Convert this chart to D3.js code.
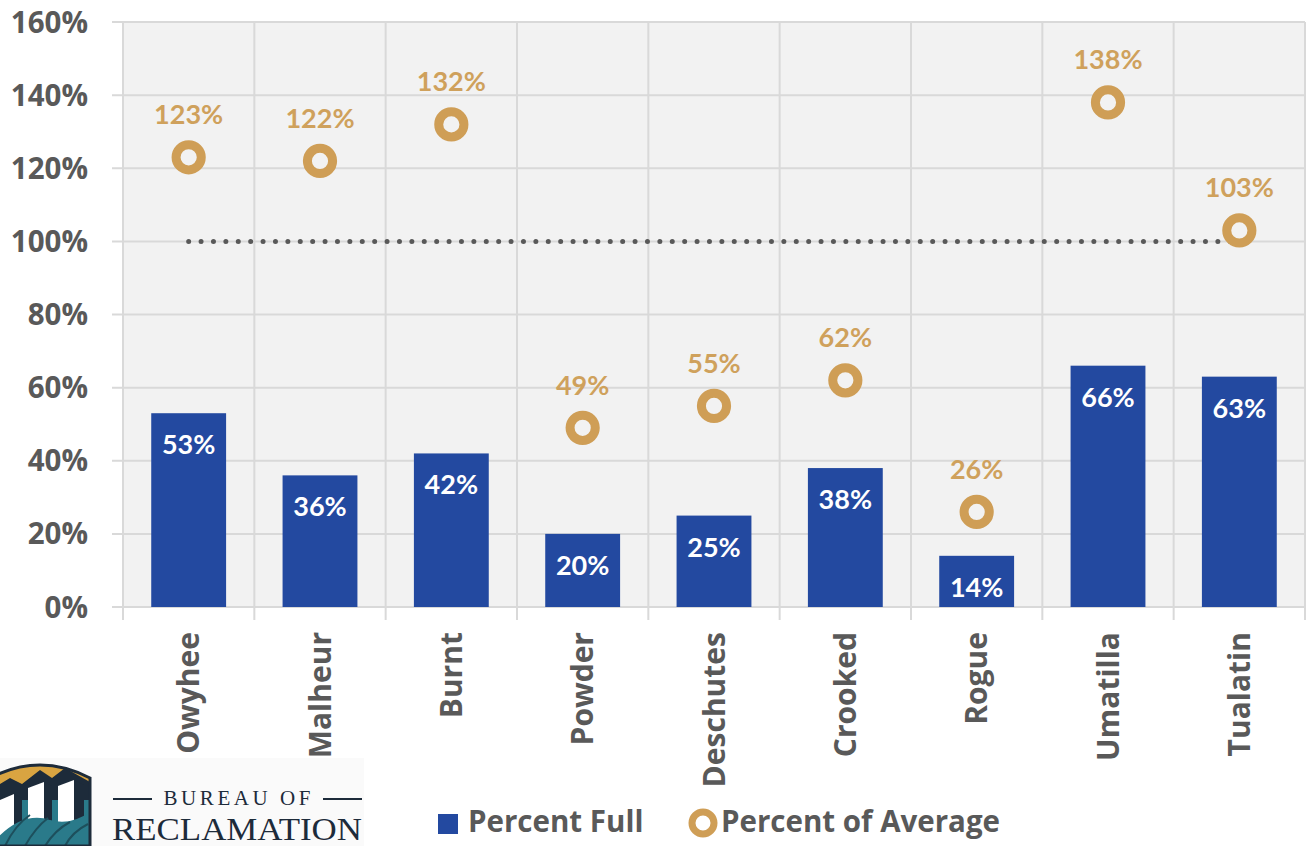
<!DOCTYPE html>
<html>
<head>
<meta charset="utf-8">
<script src="https://cdn.jsdelivr.net/npm/d3@7"></script>
<style>
  html, body { margin: 0; padding: 0; background: #ffffff; }
  svg { display: block; }
  text { font-family: Lato, "Open Sans", sans-serif; font-weight: 700; }
</style>
</head>
<body>
<svg id="chart" width="1307" height="846"></svg>
<script>
// ---- data ----
const categories = ["Owyhee", "Malheur", "Burnt", "Powder", "Deschutes", "Crooked", "Rogue", "Umatilla", "Tualatin"];
const percentFull = [53, 36, 42, 20, 25, 38, 14, 66, 63];
const percentOfAverage = [123, 122, 132, 49, 55, 62, 26, 138, 103];
const averageLine = [100, 100, 100, 100, 100, 100, 100, 100, 100];
const yTicks = [0, 20, 40, 60, 80, 100, 120, 140, 160];
const seriesNames = ["Percent Full", "Percent of Average"];

(function () {
// ---- styles ----
const barColor = "#2349A0";
const markerColor = "#CF9E56";
const labelOrange = "#CFA15C";
const textGray = "#595959";
const gridColor = "#D9D9D9";
const sans = "'Open Sans', Lato, sans-serif";

const svg = d3.select("#chart");
const pLeft = 123, pRight = 1305, pTop = 22, pBottom = 607;

const x = d3.scaleBand().domain(categories).range([pLeft, pRight]).padding(0);
const y = d3.scaleLinear().domain([0, 160]).range([pBottom, pTop]);
const barW = x.bandwidth() * 0.57;

// plot background
svg.append("rect").attr("x", pLeft).attr("y", pTop)
  .attr("width", pRight - pLeft).attr("height", pBottom - pTop).attr("fill", "#F2F2F2");

// horizontal gridlines
svg.append("g").selectAll("line").data(yTicks).join("line")
  .attr("x1", pLeft - 11).attr("x2", pRight)
  .attr("y1", d => y(d)).attr("y2", d => y(d))
  .attr("stroke", gridColor).attr("stroke-width", 2);

// vertical gridlines / category boundaries
const bounds = categories.map(c => x(c)).concat([pRight]);
svg.append("g").selectAll("line").data(bounds).join("line")
  .attr("x1", d => d).attr("x2", d => d)
  .attr("y1", pTop).attr("y2", pBottom + 13)
  .attr("stroke", gridColor).attr("stroke-width", 2);

// y axis labels
const yAxis = d3.axisLeft(y).tickValues(yTicks).tickSize(0).tickPadding(35)
  .tickFormat(d => d + "%");
const gy = svg.append("g").attr("transform", `translate(${pLeft},0)`).call(yAxis);
gy.select(".domain").remove();
gy.selectAll("text").attr("fill", textGray).style("font-size", "29.5px")
  .style("font-family", sans).style("font-weight", 700).attr("dy", "0.34em");

// x axis labels (rotated)
const xAxis = d3.axisBottom(x).tickSize(0).tickPadding(0);
const gx = svg.append("g").attr("transform", `translate(0,${pBottom})`).call(xAxis);
gx.select(".domain").remove();
gx.selectAll("text")
  .attr("fill", textGray).style("font-size", "30px")
  .style("font-family", sans).style("font-weight", 700)
  .attr("text-anchor", "end")
  .attr("transform", "translate(0,25) rotate(-90)")
  .attr("x", 0).attr("y", 0).attr("dy", "0.36em");

// bars
svg.append("g").selectAll("rect").data(categories).join("rect")
  .attr("x", d => x(d) + (x.bandwidth() - barW) / 2)
  .attr("width", barW)
  .attr("y", (d, i) => y(percentFull[i]))
  .attr("height", (d, i) => y(0) - y(percentFull[i]))
  .attr("fill", barColor);

// bar labels
svg.append("g").selectAll("text").data(categories).join("text")
  .attr("x", d => x(d) + x.bandwidth() / 2)
  .attr("y", (d, i) => y(percentFull[i]) + 41)
  .attr("text-anchor", "middle")
  .attr("fill", "#ffffff").style("font-size", "27px")
  .text((d, i) => percentFull[i] + "%");

// 100% dotted line
const line = d3.line().x((d, i) => x(categories[i]) + x.bandwidth() / 2).y(d => y(d));
svg.append("path").datum(averageLine)
  .attr("d", line).attr("fill", "none")
  .attr("stroke", textGray).attr("stroke-width", 5)
  .attr("stroke-linecap", "round").attr("stroke-dasharray", "0 12.4");

// markers
svg.append("g").selectAll("circle").data(categories).join("circle")
  .attr("cx", d => x(d) + x.bandwidth() / 2)
  .attr("cy", (d, i) => y(percentOfAverage[i]))
  .attr("r", 12.6)
  .attr("fill", "#F2F2F2")
  .attr("stroke", markerColor).attr("stroke-width", 9);

// marker labels
svg.append("g").selectAll("text").data(categories).join("text")
  .attr("x", d => x(d) + x.bandwidth() / 2)
  .attr("y", (d, i) => y(percentOfAverage[i]) - 33)
  .attr("text-anchor", "middle")
  .attr("fill", labelOrange).style("font-size", "27px")
  .text((d, i) => percentOfAverage[i] + "%");

// legend
const lg = svg.append("g");
lg.append("rect").attr("x", 438).attr("y", 814).attr("width", 20).attr("height", 20).attr("fill", barColor);
lg.append("text").attr("x", 468).attr("y", 832).attr("fill", textGray)
  .style("font-family", sans).style("font-size", "29.5px").text(seriesNames[0]);
lg.append("circle").attr("cx", 703).attr("cy", 823).attr("r", 11).attr("fill", "#ffffff")
  .attr("stroke", markerColor).attr("stroke-width", 7);
lg.append("text").attr("x", 721).attr("y", 832).attr("fill", textGray)
  .style("font-family", sans).style("font-size", "29.5px").text(seriesNames[1]);

// logo
const logo = svg.append("g");
logo.append("rect").attr("x", 0).attr("y", 758).attr("width", 364).attr("height", 88).attr("fill", "#FAFAFA");
const shieldPath = "M -10 846 L -10 778 Q 40 752 90 778 L 90 846 Z";
const defs = svg.append("defs");
defs.append("clipPath").attr("id", "shield").append("path").attr("d", shieldPath);
const sh = logo.append("g").attr("clip-path", "url(#shield)");
sh.append("rect").attr("x", -10).attr("y", 750).attr("width", 100).attr("height", 96).attr("fill", "#2A7A8A");
sh.append("rect").attr("x", -10).attr("y", 750).attr("width", 100).attr("height", 40).attr("fill", "#D9A441");
sh.append("path").attr("d", "M -10 790 L 10 778 L 22 784 L 40 770 L 52 778 L 65 768 L 90 782 L 90 800 L -10 800 Z").attr("fill", "#1D2B3A");
sh.append("path").attr("d", "M 0 800 L 14 794 L 14 846 L 0 846 Z").attr("fill", "#ffffff");
sh.append("path").attr("d", "M 14 794 L 22 798 L 22 846 L 14 846 Z").attr("fill", "#1D2B3A");
sh.append("path").attr("d", "M 28 788 L 44 782 L 44 846 L 28 846 Z").attr("fill", "#ffffff");
sh.append("path").attr("d", "M 44 782 L 52 786 L 52 846 L 44 846 Z").attr("fill", "#1D2B3A");
sh.append("path").attr("d", "M 58 786 L 74 780 L 74 846 L 58 846 Z").attr("fill", "#ffffff");
sh.append("path").attr("d", "M 74 780 L 84 785 L 84 846 L 74 846 Z").attr("fill", "#1D2B3A");
sh.append("path").attr("d", "M -10 846 Q 20 810 50 820 Q 70 826 90 812 L 90 846 Z").attr("fill", "#2A7A8A");
sh.append("path").attr("d", "M 5 846 Q 15 825 30 815 M 25 846 Q 35 828 48 818 M 45 846 Q 55 830 70 822 M 65 846 Q 72 832 88 824")
  .attr("fill", "none").attr("stroke", "#1D4F5C").attr("stroke-width", 2);
logo.append("path").attr("d", shieldPath).attr("fill", "none").attr("stroke", "#1D2B3A").attr("stroke-width", 3);

const serif = "'Liberation Serif', 'DejaVu Serif', serif";
logo.append("line").attr("x1", 113).attr("x2", 152).attr("y1", 799).attr("y2", 799).attr("stroke", "#1D2B3A").attr("stroke-width", 2);
logo.append("line").attr("x1", 323).attr("x2", 362).attr("y1", 799).attr("y2", 799).attr("stroke", "#1D2B3A").attr("stroke-width", 2);
logo.append("text").attr("x", 237).attr("y", 805).attr("text-anchor", "middle")
  .style("font-family", serif).style("font-weight", 400).style("font-size", "21px")
  .attr("textLength", 147).attr("lengthAdjust", "spacing")
  .attr("fill", "#1D2B3A").text("BUREAU OF");
logo.append("text").attr("x", 112).attr("y", 840)
  .style("font-family", serif).style("font-weight", 400).style("font-size", "31px")
  .attr("textLength", 250).attr("lengthAdjust", "spacingAndGlyphs")
  .attr("fill", "#1D2B3A").text("RECLAMATION");
})();
</script>
</body>
</html>
